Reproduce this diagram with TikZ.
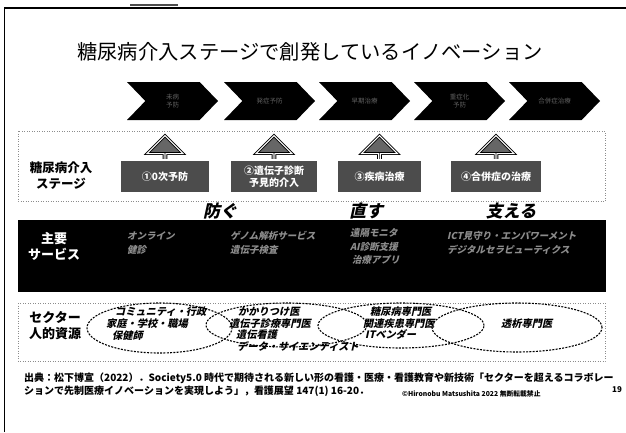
\documentclass[tikz,border=0pt]{standalone}
\usepackage{fontspec}
\setmainfont{Noto Sans CJK JP}
\newfontfamily\jpsl[FakeSlant=0.22]{Noto Sans CJK JP}
\usetikzlibrary{shapes.geometric,shapes.arrows,shapes.symbols}
\tikzset{
  chev/.style={signal, signal to=east, signal from=west, signal pointer angle=92,
    fill=black, minimum width=91, minimum height=38, inner sep=0pt,
    text=black!62, font=\fontsize{6.5}{8}\selectfont, align=center},
  stagebox/.style={draw=black, double=white, double distance=1.1pt, line width=0.9pt,
    fill=black!70, text=white, font=\bfseries\fontsize{10}{11.5}\selectfont,
    align=center, inner sep=0pt},
  uparrow/.style={single arrow, rotate=90, draw=black, double=white, double distance=1pt,
    line width=0.9pt, fill=black!60, minimum height=29, minimum width=36,
    single arrow head extend=9, inner sep=0pt, anchor=tail},
  lbl/.style={font=\bfseries\fontsize{12.5}{16}\selectfont, align=center},
  verb/.style={font=\jpsl\bfseries\fontsize{17}{18}\selectfont},
  svc/.style={font=\jpsl\bfseries\fontsize{9.5}{11}\selectfont, text=white, text opacity=0.55, anchor=west, inner sep=0pt},
  sector/.style={ellipse, draw=black, line width=1.1pt, dash pattern=on 2pt off 1.3pt, inner sep=0pt},
  etext/.style={font=\jpsl\bfseries\fontsize{10.2}{11}\selectfont, anchor=west, inner sep=0pt},
  frame/.style={draw=black!45, line width=0.5pt, dotted},
  cite/.style={font=\bfseries\fontsize{10}{11}\selectfont, anchor=west, inner sep=0pt}
}
\begin{document}
\begin{tikzpicture}[x=1pt,y=-1pt]
\useasboundingbox (0,0) rectangle (626,432);
\fill[white] (0,0) rectangle (626,432);
% slide frame
\draw[line width=1.1pt] (4.5,432) -- (4.5,8) -- (626,8);
\draw[line width=1.2pt, black!70] (130,5) -- (178,5);

% title
\node[font=\fontsize{20.3}{24}\selectfont] (title) at (310,52) {糖尿病介入ステージで創発しているイノベーション};

% chevrons
\node[chev] (c1) at (172.5,101) {未病\\予防};
\node[chev] (c2) at (269.5,101) {発症予防};
\node[chev] (c3) at (364.5,101) {早期治療};
\node[chev] (c4) at (459.5,101) {重症化\\予防};
\node[chev] (c5) at (554.5,101) {合併症治療};

% dotted frames
\draw[frame] (18,131) rectangle (605,201);
\draw[frame] (18,303) rectangle (605,361);

% stage label
\node[lbl] (stagelbl) at (61,176) {糖尿病介入\\ステージ};

% up arrows and stage boxes
\node[uparrow] (a1) at (165,165) {};
\node[uparrow] (a2) at (274,165) {};
\node[uparrow] (a3) at (379.5,165) {};
\node[uparrow] (a4) at (496,165) {};
\node[stagebox, minimum width=90, minimum height=33] (s1) at (165,176.5) {①0次予防};
\node[stagebox, minimum width=88, minimum height=33] (s2) at (274,176.5) {②遺伝子診断\\予見的介入};
\node[stagebox, minimum width=85, minimum height=33] (s3) at (379.5,176.5) {③疾病治療};
\node[stagebox, minimum width=92, minimum height=33] (s4) at (496,176.5) {④合併症の治療};

% black band
\node[fill=black, inner sep=0pt, minimum width=588, minimum height=72] (band) at (312,256) {};
\node[verb] (v1) at (220,211) {防ぐ};
\node[verb] (v2) at (366,211) {直す};
\node[verb] (v3) at (511,211) {支える};
\node[font=\bfseries\fontsize{13}{16}\selectfont, text=white, align=center] (bandlbl) at (54,246) {主要\\サービス};
\node[svc] (g1a) at (127,236) {オンライン};
\node[svc] (g1b) at (127,250) {健診};
\node[svc] (g2a) at (230,236) {ゲノム解析サービス};
\node[svc] (g2b) at (230,250) {遺伝子検査};
\node[svc] (g3a) at (350,233) {遠隔モニタ};
\node[svc] (g3b) at (350,247) {AI診断支援};
\node[svc] (g3c) at (352,260) {治療アプリ};
\node[svc] (g4a) at (447,236) {ICT見守り・エンパワーメント};
\node[svc] (g4b) at (447,250) {デジタルセラピューティクス};

% sector row
\node[lbl, font=\bfseries\fontsize{13}{16}\selectfont] (seclbl) at (55,326) {セクター\\人的資源};
\node[sector, minimum width=145, minimum height=50] (e1) at (159.5,328) {};
\node[sector, minimum width=161, minimum height=44] (e2) at (286.5,325) {};
\node[sector, minimum width=166, minimum height=45] (e3) at (401,325.5) {};
\node[sector, minimum width=170, minimum height=49] (e4) at (517,327.5) {};
\node[etext] (t11) at (115,312) {コミュニティ・行政};
\node[etext] (t12) at (106,324) {家庭・学校・職場};
\node[etext] (t13) at (112,336) {保健師};
\node[etext] (t21) at (238,312) {かかりつけ医};
\node[etext] (t22) at (229,324) {遺伝子診療専門医};
\node[etext] (t23) at (236,335) {遺伝看護};
\node[etext] (t24) at (237,346) {データ・サイエンティスト};
\node[etext] (t31) at (370,312) {糖尿病専門医};
\node[etext] (t32) at (363,324) {関連疾患専門医};
\node[etext] (t33) at (365,335) {ITベンダー};
\node[etext] (t41) at (501,324) {透析専門医};

% citation
\node[cite] (cite1) at (24,378) {出典：松下博宣（2022）．Society5.0 時代で期待される新しい形の看護・医療・看護教育や新技術「セクターを超えるコラボレー};
\node[cite] (cite2) at (24,391) {ションで先制医療イノベーションを実現しよう」，看護展望 147(1) 16-20．};
\node[font=\bfseries\fontsize{6.8}{8}\selectfont, anchor=west, inner sep=0pt] (copy) at (402,394) {©Hironobu Matsushita 2022 無断転載禁止};
\node[font=\bfseries\fontsize{8}{9}\selectfont, inner sep=0pt] (pnum) at (617,390) {19};
\end{tikzpicture}
\end{document}
